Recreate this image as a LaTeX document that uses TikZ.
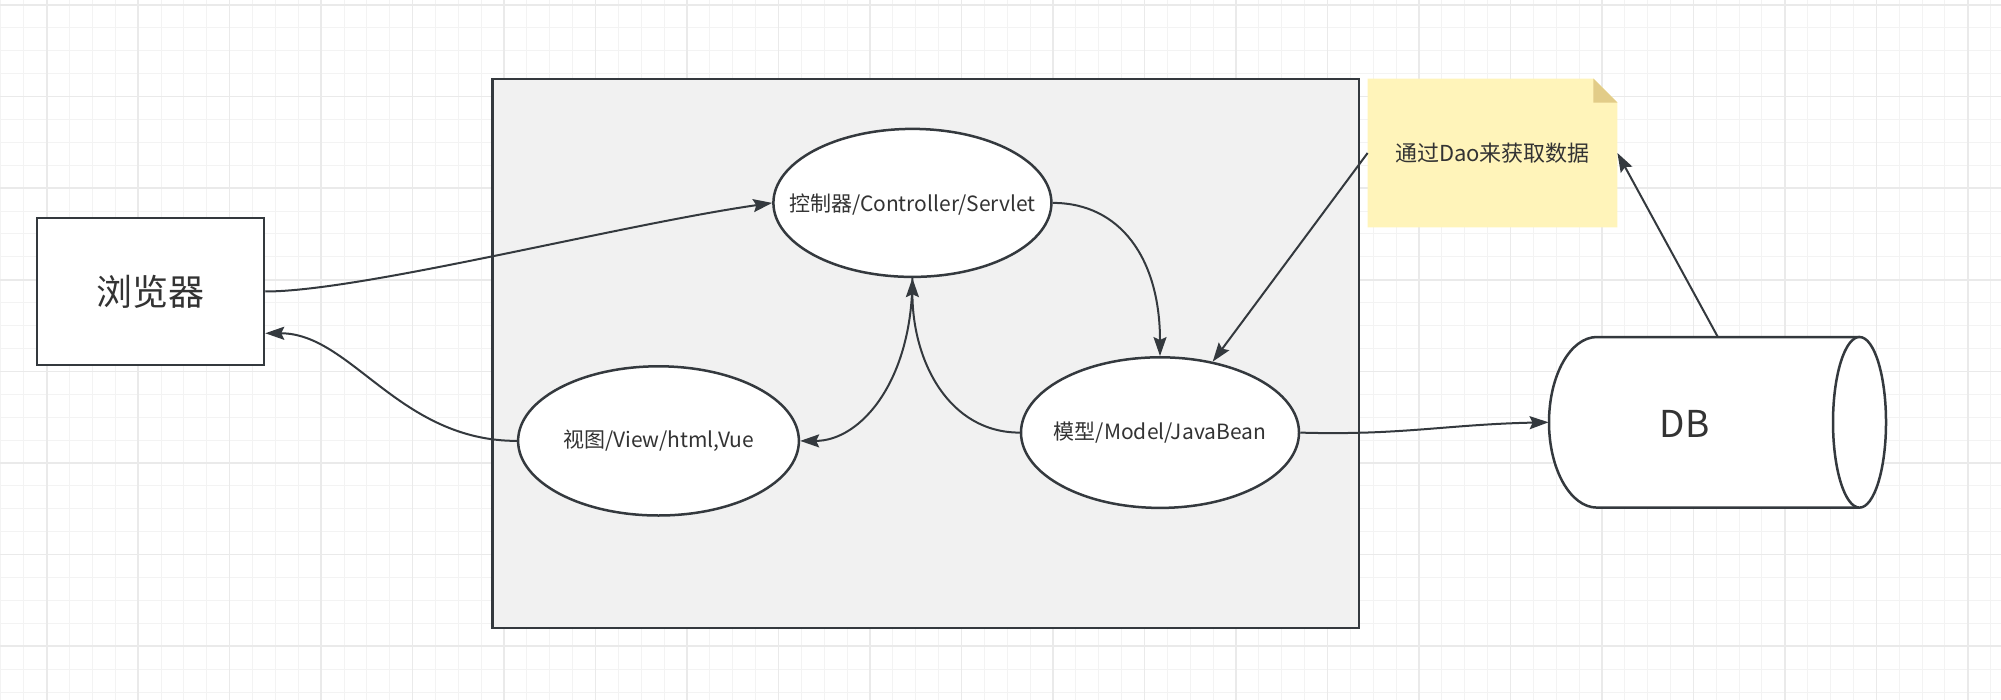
\documentclass[tikz,border=0pt]{standalone}
\usepackage{fontspec}
\setmainfont{Noto Sans CJK SC}
\usetikzlibrary{shapes.geometric,arrows.meta}
\definecolor{strokec}{HTML}{34393E}
\definecolor{txtc}{HTML}{333333}
\definecolor{boxfill}{HTML}{F1F1F1}
\definecolor{notefill}{HTML}{FFF4BA}
\definecolor{notefold}{HTML}{E2CC88}
\definecolor{gridminor}{HTML}{F3F3F3}
\definecolor{gridmajor}{HTML}{EAEAEA}
\tikzset{
  shapeborder/.style={draw=strokec, line width=1.25pt},
  ellbox/.style={ellipse, shapeborder, fill=white, inner sep=0pt, minimum width=139pt, minimum height=74pt},
  lbl/.style={text=txtc, inner sep=0pt, font=\fontsize{10.5pt}{12pt}\selectfont},
  biglbl/.style={text=txtc, inner sep=0pt, font=\fontsize{18pt}{21pt}\selectfont},
  conn/.style={draw=strokec, line width=1pt, -{Stealth[length=9.5pt, width=6.5pt, inset=1.5pt]}},
}
\begin{document}
\begin{tikzpicture}[x=0.5pt, y=-0.5pt]
\useasboundingbox (0,0) rectangle (2001,700);
\fill[white] (0,0) rectangle (2001,700);
% grid
\begin{scope}
\clip (0,0) rectangle (2001,700);
\foreach \k in {-2,...,85} \draw[gridminor, line width=0.5pt] ({46.7+22.87*\k},0) -- ({46.7+22.87*\k},700);
\foreach \k in {0,...,30} \draw[gridminor, line width=0.5pt] (0,{5+22.9*\k}) -- (2001,{5+22.9*\k});
\foreach \k in {0,4,...,84} \draw[gridmajor, line width=0.8pt] ({46.7+22.87*\k},0) -- ({46.7+22.87*\k},700);
\foreach \k in {0,4,...,28} \draw[gridmajor, line width=0.8pt] (0,{5+22.9*\k}) -- (2001,{5+22.9*\k});
\end{scope}

% container
\node[rectangle, shapeborder, fill=boxfill, inner sep=0pt, minimum width=433.2pt, minimum height=274.35pt] (container) at (925.8,353.45) {};

% browser
\node[rectangle, shapeborder, fill=white, inner sep=0pt, minimum width=113.5pt, minimum height=73.5pt] (browser) at (150.5,291.5) {};
\node[biglbl] at (browser.center) {浏览器};

% ellipses
\node[ellbox] (ctrl) at (912.4,202.9) {};
\node[lbl] at ([yshift=-1pt]ctrl.center) {控制器/Controller/Servlet};
\node[ellbox, minimum width=140.4pt, minimum height=74.6pt] (view) at (658.5,440.9) {};
\node[lbl] at (view.center) {视图/View/html,Vue};
\node[ellbox, minimum height=75.3pt] (model) at (1160,432.6) {};
\node[lbl] at (model.center) {模型/Model/JavaBean};

% note
\node[rectangle, inner sep=0pt, minimum width=124.5pt, minimum height=74pt] (note) at (1492.5,153) {};
\fill[notefill] (note.north west) -- ([xshift=-12pt]note.north east) -- ([yshift=-12pt]note.north east) -- (note.south east) -- (note.south west) -- cycle;
\fill[notefold] ([xshift=-12pt]note.north east) -- ([xshift=-12pt,yshift=-12pt]note.north east) -- ([yshift=-12pt]note.north east) -- cycle;
\node[lbl, font=\fontsize{11pt}{13pt}\selectfont] at (note.center) {通过Dao来获取数据};

% database cylinder
\node[rectangle, inner sep=0pt, minimum width=168.5pt, minimum height=85.5pt] (db) at (1717.5,422.3) {};
\path[fill=white, shapeborder] (1859.5,337) -- (1597,337) arc[start angle=90, end angle=270, x radius=24pt, y radius=42.65pt] -- (1859.5,507.6);
\filldraw[fill=white, shapeborder] (1859.5,422.3) ellipse[x radius=13.25pt, y radius=42.65pt];
\node[biglbl, font=\fontsize{18.5pt}{21pt}\selectfont] at (1684.5,424) {DB};

% connectors
\draw[conn] (browser.east) .. controls +(96,0) and +(-153,22) .. (ctrl.west);
\draw[conn] (view.west) .. controls +(-118,0) and +(86,0) .. (browser.-20);
\draw[conn] (ctrl.east) .. controls +(68,0) and +(0,-97) .. (model.north);
\draw[conn] (model.west) .. controls +(-71,0) and +(0,83) .. (ctrl.south);
\draw[conn] (ctrl.south) .. controls +(0,102) and +(61,0) .. (view.east);
\draw[conn] (model.east) .. controls +(100,3) and +(-100,2) .. (db.west);
\draw[conn] (note.west) -- (model);
\draw[conn] (db.north) -- (note.east);
\end{tikzpicture}
\end{document}
